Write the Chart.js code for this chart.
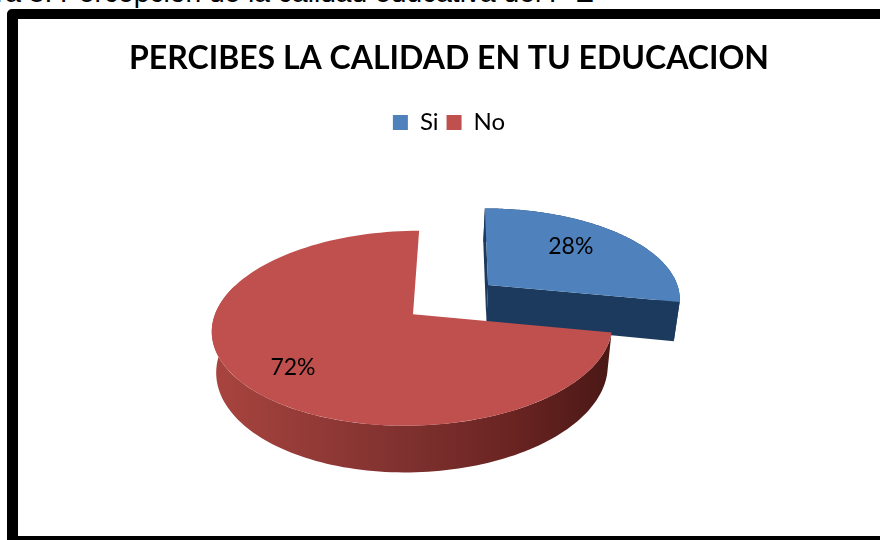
<!DOCTYPE html>
<html>
<head>
<meta charset="utf-8">
<style>
  html, body { margin: 0; padding: 0; background: #fff; overflow: hidden; }
  body { width: 880px; height: 540px; position: relative; }
  #caption { position: absolute; left: -59px; top: -24px; white-space: nowrap; font: 28.2px/32px "Liberation Sans", Arial, sans-serif; color: #000; }
  #frame { position: absolute; left: 7px; top: 9px; width: 900px; height: 531px; box-sizing: border-box; border: solid #000; border-width: 10px 11px 4px 11px; border-radius: 5px 0 0 0; }
  #myChart { position: absolute; left: 18px; top: 19px; }
</style>
</head>
<body>
<div id="caption">Figura 8: Percepción de la calidad educativa del P E</div>
<div id="frame"></div>
<canvas id="myChart" width="862" height="517"></canvas>
<script src="https://cdn.jsdelivr.net/npm/chart.js@4"></script>
<script>
  const titulo = 'PERCIBES LA CALIDAD EN TU EDUCACION';
  const labels = ['Si', 'No'];
  const valores = [28, 72];
  const szinek = ['#4F81BD', '#C0504D'];

  // look of the 3D pie, drawn from the arcs that Chart.js lays out
  const persp = 0.144, squash = 0.482, skew = -7, depth = 40, baseShrink = 0.978;
  const shiftX = -36;
  const explode = [0.5, 0];
  const labelAt = [0.63, 0.72];
  const labelNudge = [[-3, -5], [1, 6]];

  const pie3d = {
    id: 'pie3d',
    beforeDatasetDraw(chart) {
      const ctx = chart.ctx;
      const arcs = chart.getDatasetMeta(0).data;
      const R = arcs[0].outerRadius, cx = arcs[0].x + shiftX, cy = arcs[0].y;

      const pt = (X, Y, z) => {
        const w = 1 - persp * Y;
        const k = z ? baseShrink : 1;
        return [cx + (R * X + skew * Y) / w * k, cy + (R * squash * Y + depth * z) / w];
      };
      const rim = (arc, i, z, from, to) => {
        const mid = (arc.startAngle + arc.endAngle) / 2;
        const ox = Math.cos(mid) * explode[i], oy = Math.sin(mid) * explode[i];
        const out = [];
        for (let n = 0; n <= 120; n++) {
          const a = from + (to - from) * n / 120;
          out.push(pt(ox + Math.cos(a), oy + Math.sin(a), z));
        }
        return out;
      };
      const apex = (arc, i, z) => {
        const mid = (arc.startAngle + arc.endAngle) / 2;
        return pt(Math.cos(mid) * explode[i], Math.sin(mid) * explode[i], z);
      };
      const fill = (pts, color) => {
        ctx.beginPath();
        pts.forEach((p, n) => n ? ctx.lineTo(p[0], p[1]) : ctx.moveTo(p[0], p[1]));
        ctx.closePath();
        ctx.fillStyle = color;
        ctx.fill();
      };

      ctx.save();
      arcs.forEach((arc, i) => {
        const top = rim(arc, i, 0, arc.startAngle, arc.endAngle);
        const a0 = apex(arc, i, 0), a1 = apex(arc, i, 1);
        // the back of the rim is hidden, stop the wall before it
        const wallEnd = Math.min(arc.endAngle, Math.PI * 1.1);
        const wallTop = rim(arc, i, 0, arc.startAngle, wallEnd);
        const wallBottom = rim(arc, i, 1, arc.startAngle, wallEnd);
        let wall;
        if (i === 0) {
          wall = '#1C3A5E';
          // cut faces only show on the pulled out slice
          const bottom = rim(arc, i, 1, arc.startAngle, arc.endAngle);
          fill([a0, top[0], bottom[0], a1], wall);
          fill([a0, top[120], bottom[120], a1], wall);
        } else {
          wall = ctx.createLinearGradient(cx - R, 0, cx + R, 0);
          wall.addColorStop(0, '#A8443F');
          wall.addColorStop(0.5, '#7D302E');
          wall.addColorStop(0.75, '#6A2422');
          wall.addColorStop(1, '#4A1815');
        }
        fill(wallTop.concat(wallBottom.slice().reverse()), wall);
        fill([a0].concat(top), szinek[i]);
      });

      ctx.font = '23px Lato';
      ctx.fillStyle = '#000';
      ctx.textAlign = 'center';
      ctx.textBaseline = 'middle';
      arcs.forEach((arc, i) => {
        const mid = (arc.startAngle + arc.endAngle) / 2;
        const t = explode[i] + labelAt[i];
        const p = pt(Math.cos(mid) * t, Math.sin(mid) * t, 0);
        const total = valores.reduce((a, b) => a + b, 0);
        ctx.fillText(Math.round(valores[i] / total * 100) + '%', p[0] + labelNudge[i][0], p[1] + labelNudge[i][1]);
      });
      ctx.restore();
      return false;
    }
  };

  const config = {
    type: 'pie',
    data: {
      labels: labels,
      datasets: [{ data: valores, backgroundColor: szinek, borderWidth: 0, radius: 198 }]
    },
    plugins: [pie3d],
    options: {
      responsive: false,
      animation: false,
      layout: { padding: { bottom: 52 } },
      plugins: {
        title: {
          display: true,
          text: titulo,
          color: '#000',
          font: { family: 'Lato', size: 32, weight: 'bold' },
          padding: { top: 20, bottom: 25 }
        },
        legend: {
          position: 'top',
          labels: {
            color: '#000',
            boxWidth: 15,
            boxHeight: 15,
            padding: 8,
            font: { family: 'Lato', size: 24 }
          }
        },
        tooltip: { enabled: false }
      }
    }
  };

  const myChart = new Chart(document.getElementById('myChart'), config);
</script>
</body>
</html>
